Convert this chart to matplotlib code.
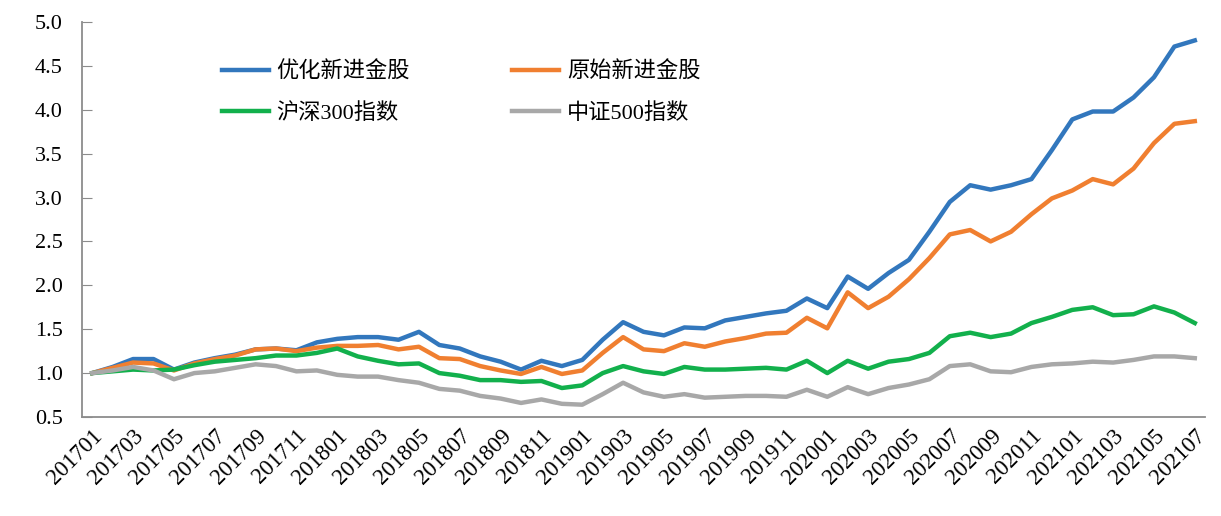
import numpy as np
import matplotlib
matplotlib.use('Agg')
import matplotlib.pyplot as plt
import matplotlib.transforms as mtransforms

plt.rcParams['font.family'] = ['Liberation Serif', 'Noto Sans CJK SC']

# months 201701 .. 202107
months = ['%d%02d' % (2017 + i // 12, i % 12 + 1) for i in range(55)]

youhua = [1.00, 1.07, 1.16, 1.16, 1.04, 1.12, 1.17, 1.21, 1.27, 1.28, 1.26, 1.35,
          1.39, 1.41, 1.41, 1.38, 1.47, 1.32, 1.28, 1.19, 1.13, 1.04, 1.14, 1.08,
          1.15, 1.38, 1.58, 1.47, 1.43, 1.52, 1.51, 1.60, 1.64, 1.68, 1.71, 1.85,
          1.74, 2.10, 1.96, 2.14, 2.29, 2.61, 2.95, 3.14, 3.09, 3.14, 3.21, 3.54,
          3.89, 3.98, 3.98, 4.14, 4.37, 4.72, 4.79]
yuanshi = [1.00, 1.06, 1.12, 1.11, 1.03, 1.11, 1.16, 1.20, 1.27, 1.28, 1.25, 1.29,
           1.31, 1.31, 1.32, 1.27, 1.30, 1.17, 1.16, 1.08, 1.03, 0.99, 1.07, 0.99,
           1.03, 1.23, 1.41, 1.27, 1.25, 1.34, 1.30, 1.36, 1.40, 1.45, 1.46, 1.63,
           1.51, 1.92, 1.74, 1.87, 2.07, 2.31, 2.58, 2.63, 2.50, 2.61, 2.81, 2.99,
           3.08, 3.21, 3.15, 3.33, 3.62, 3.84, 3.87]
hs300 = [1.00, 1.02, 1.04, 1.03, 1.04, 1.09, 1.13, 1.15, 1.17, 1.20, 1.20, 1.23,
         1.28, 1.19, 1.14, 1.10, 1.11, 1.00, 0.97, 0.92, 0.92, 0.90, 0.91, 0.83,
         0.86, 1.00, 1.08, 1.02, 0.99, 1.07, 1.04, 1.04, 1.05, 1.06, 1.04, 1.14,
         1.00, 1.14, 1.05, 1.13, 1.16, 1.23, 1.42, 1.46, 1.41, 1.45, 1.57, 1.64,
         1.72, 1.75, 1.66, 1.67, 1.76, 1.69, 1.57]
zz500 = [1.00, 1.03, 1.07, 1.03, 0.93, 1.00, 1.02, 1.06, 1.10, 1.08, 1.02, 1.03,
         0.98, 0.96, 0.96, 0.92, 0.89, 0.82, 0.80, 0.74, 0.71, 0.66, 0.70, 0.65,
         0.64, 0.76, 0.89, 0.78, 0.73, 0.76, 0.72, 0.73, 0.74, 0.74, 0.73, 0.81,
         0.73, 0.84, 0.76, 0.83, 0.87, 0.93, 1.08, 1.10, 1.02, 1.01, 1.07, 1.10,
         1.11, 1.13, 1.12, 1.15, 1.19, 1.19, 1.17]

series = [('优化新进金股', youhua, '#3277BD'),
          ('原始新进金股', yuanshi, '#F07F30'),
          ('沪深300指数', hs300, '#12B04C'),
          ('中证500指数', zz500, '#A8A8A8')]

fig = plt.figure(figsize=(12.21, 5.16), dpi=100)
ax = fig.add_axes([0.0672, 0.1919, 0.9197, 0.7655])

x = np.arange(len(months))
lines = []
for name, vals, c in series:
    ln, = ax.plot(x, vals, color=c, lw=3.2, label=name)
    lines.append(ln)

ax.set_xlim(-0.5, len(months) - 0.5)
ax.set_ylim(0.5, 5.0)
yt = np.arange(0.5, 5.01, 0.5)
ax.set_yticks(yt)
ax.set_yticklabels(['%.1f' % v for v in yt], fontsize=16)
ax.set_xticks(x[::2])
ax.set_xticklabels(months[::2], rotation=45, ha='right', rotation_mode='anchor', fontsize=16.5)
off = mtransforms.ScaledTranslation(-6 / 100, -4 / 100, fig.dpi_scale_trans)
for lab in ax.get_xticklabels():
    lab.set_transform(lab.get_transform() + off)

for s in ['top', 'right']:
    ax.spines[s].set_visible(False)
for s in ['left', 'bottom']:
    ax.spines[s].set_color('#8c8c8c')
    ax.spines[s].set_linewidth(1.3)
ax.tick_params(axis='y', direction='in', length=7, color='#8c8c8c', pad=14)
ax.tick_params(axis='x', length=0, pad=6)

# legend filled column-wise, so order handles to read row by row
order = [0, 2, 1, 3]
ax.legend([lines[i] for i in order], [series[i][0] for i in order],
          loc='upper left', bbox_to_anchor=(0.107, 0.95), ncol=2, frameon=False,
          fontsize=16, handlelength=2.1, handletextpad=0.35,
          columnspacing=4.6, labelspacing=0.9)

fig.savefig('out.png', dpi=100)
